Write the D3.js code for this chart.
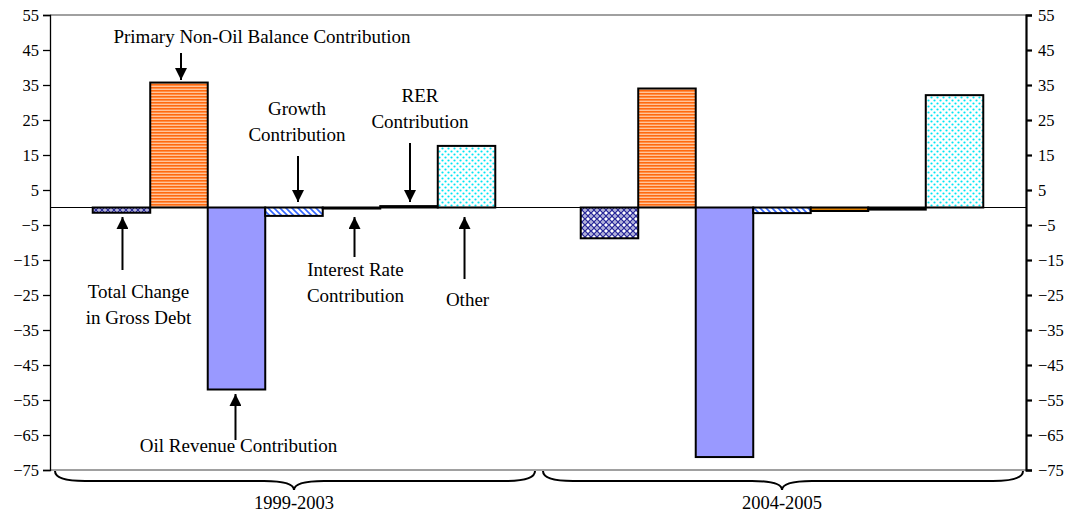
<!DOCTYPE html>
<html>
<head>
<meta charset="utf-8">
<script src="https://cdn.jsdelivr.net/npm/d3@7"></script>
<style>
  body { margin: 0; background: #fff; }
  text { font-family: "Liberation Serif", "Times New Roman", serif; fill: #000; }
</style>
</head>
<body>
<div id="chart"></div>
<script>
// data
const periods = ['1999-2003', '2004-2005'];
const seriesNames = ['Total Change in Gross Debt', 'Primary Non-Oil Balance Contribution',
  'Oil Revenue Contribution', 'Growth Contribution', 'Interest Rate Contribution',
  'RER Contribution', 'Other'];
const totalChange = [-1.5, -8.8];
const primaryNonOil = [35.7, 34.0];
const oilRevenue = [-52.0, -71.3];
const growth = [-2.4, -1.6];
const interestRate = [-0.3, -1.0];
const rer = [0.4, -0.6];
const other = [17.6, 32.1];
const yTicks = [55, 45, 35, 25, 15, 5, -5, -15, -25, -35, -45, -55, -65, -75];

const seriesValues = [totalChange, primaryNonOil, oilRevenue, growth, interestRate, rer, other];
const fills = ['url(#pTotal)', 'url(#pPrimary)', '#9999FF', 'url(#pGrowth)', '#E08000', '#000000', 'url(#pOther)'];

const W = 1068, H = 514;
const plotLeft = 50, plotRight = 1026, plotTop = 15, plotBottom = 470;

const svg = d3.select('#chart').append('svg')
    .attr('width', W)
    .attr('height', H);

// patterns
const defs = svg.append('defs');
let p = defs.append('pattern').attr('id', 'pTotal').attr('width', 6).attr('height', 6).attr('patternUnits', 'userSpaceOnUse');
p.append('rect').attr('width', 6).attr('height', 6).attr('fill', '#fff');
p.append('path').attr('d', 'M0,0L6,6M6,0L0,6').attr('stroke', '#2b2b9a').attr('stroke-width', 1.4);
p.append('circle').attr('cx', 3).attr('cy', 0).attr('r', 0.7).attr('fill', '#2b2b9a');
p.append('circle').attr('cx', 3).attr('cy', 6).attr('r', 0.7).attr('fill', '#2b2b9a');

p = defs.append('pattern').attr('id', 'pPrimary').attr('width', 3).attr('height', 3).attr('patternUnits', 'userSpaceOnUse');
p.append('rect').attr('width', 3).attr('height', 3).attr('fill', '#FFC49A');
p.append('rect').attr('width', 3).attr('height', 1.6).attr('fill', '#FF6A10');

p = defs.append('pattern').attr('id', 'pGrowth').attr('width', 6).attr('height', 6).attr('patternUnits', 'userSpaceOnUse');
p.append('rect').attr('width', 6).attr('height', 6).attr('fill', '#fff');
p.append('path').attr('d', 'M0,0L6,6M-3,3L3,9M3,-3L9,3').attr('stroke', '#3366FF').attr('stroke-width', 1.6);

p = defs.append('pattern').attr('id', 'pOther').attr('width', 6).attr('height', 6).attr('patternUnits', 'userSpaceOnUse');
p.append('rect').attr('width', 6).attr('height', 6).attr('fill', '#fff');
p.append('circle').attr('cx', 1.5).attr('cy', 1.5).attr('r', 1.1).attr('fill', '#00E5F5');
p.append('circle').attr('cx', 4.5).attr('cy', 4.5).attr('r', 1.1).attr('fill', '#00E5F5');

defs.append('marker').attr('id', 'head')
    .attr('viewBox', '0 0 12 12').attr('refX', 12).attr('refY', 6)
    .attr('markerWidth', 12).attr('markerHeight', 12)
    .attr('markerUnits', 'userSpaceOnUse').attr('orient', 'auto')
  .append('path').attr('d', 'M0,0L12,6L0,12Z').attr('fill', '#000');

// scales
const x0 = d3.scaleBand().domain(periods).range([plotLeft, plotRight]);
const x1 = d3.scaleBand().domain(seriesNames).range([0, x0.bandwidth()]).paddingInner(0).paddingOuter(0.743);
const y = d3.scaleLinear().domain([-75, 55]).range([plotBottom, plotTop]);

// plot frame (top / bottom edges)
svg.append('line').attr('x1', plotLeft).attr('x2', plotRight).attr('y1', plotTop).attr('y2', plotTop)
    .attr('stroke', '#808080').attr('stroke-width', 1.5);
svg.append('line').attr('x1', plotLeft).attr('x2', plotRight).attr('y1', plotBottom).attr('y2', plotBottom)
    .attr('stroke', '#808080').attr('stroke-width', 1.5);

// zero line
svg.append('line').attr('x1', plotLeft).attr('x2', plotRight).attr('y1', y(0)).attr('y2', y(0))
    .attr('stroke', '#000').attr('stroke-width', 1);

// axes
const yLeft = svg.append('g').attr('transform', `translate(${plotLeft},0)`)
    .call(d3.axisLeft(y).tickValues(yTicks).tickSize(7).tickPadding(4));
const yRight = svg.append('g').attr('transform', `translate(${plotRight},0)`)
    .call(d3.axisRight(y).tickValues(yTicks).tickSize(6).tickPadding(6));
[yLeft, yRight].forEach(g => {
  g.select('.domain').attr('stroke', '#000');
  g.selectAll('text').attr('font-size', 16.5).attr('fill', '#000');
});
yLeft.selectAll('.domain, .tick line').attr('stroke-width', 1.3);
yRight.selectAll('.domain, .tick line').attr('stroke-width', 2.2);

// bars
const barData = [];
seriesNames.forEach((s, si) => {
  periods.forEach((per, pi) => {
    barData.push({ series: s, period: per, value: seriesValues[si][pi], fill: fills[si] });
  });
});

svg.append('g').selectAll('rect').data(barData).join('rect')
    .attr('x', d => x0(d.period) + x1(d.series))
    .attr('width', x1.bandwidth())
    .attr('y', d => y(Math.max(0, d.value)))
    .attr('height', d => Math.abs(y(d.value) - y(0)))
    .attr('fill', d => d.fill)
    .attr('stroke', '#000')
    .attr('stroke-width', 2);

// annotations for the first period
const barMid = i => x0(periods[0]) + x1(seriesNames[i]) + x1.bandwidth() / 2;
const notes = [
  { i: 0, dx: 1, y1: 270, y2: 217, lines: ['Total Change', 'in Gross Debt'], tx: 16, ty: 298 },
  { i: 1, dx: 2, y1: 53, y2: 80, lines: ['Primary Non-Oil Balance Contribution'], tx: 81, ty: 43 },
  { i: 2, dx: -1, y1: 440, y2: 394, lines: ['Oil Revenue Contribution'], tx: 3, ty: 452 },
  { i: 3, dx: 4, y1: 156, y2: 202, lines: ['Growth', 'Contribution'], tx: -1, ty: 115 },
  { i: 4, dx: 3, y1: 257, y2: 217, lines: ['Interest Rate', 'Contribution'], tx: 1, ty: 276 },
  { i: 5, dx: 1, y1: 143, y2: 202, lines: ['RER', 'Contribution'], tx: 10, ty: 102 },
  { i: 6, dx: -2, y1: 279, y2: 217, lines: ['Other'], tx: 3, ty: 306 }
];

const ann = svg.append('g');
notes.forEach(n => {
  const ax = barMid(n.i) + n.dx;
  ann.append('line').attr('x1', ax).attr('x2', ax).attr('y1', n.y1).attr('y2', n.y2)
      .attr('stroke', '#000').attr('stroke-width', 2).attr('marker-end', 'url(#head)');
  const t = ann.append('text').attr('text-anchor', 'middle').attr('font-size', 19)
      .attr('x', ax + n.tx).attr('y', n.ty);
  n.lines.forEach((l, k) => {
    t.append('tspan').attr('x', ax + n.tx).attr('dy', k === 0 ? 0 : 25.5).text(l);
  });
});

// braces and period labels
const braceTop = plotBottom + 1, braceMid = plotBottom + 11, braceTip = plotBottom + 20;
periods.forEach(per => {
  const a = x0(per) + 5, b = x0(per) + x0.bandwidth() - 3, c = x0(per) + x0.bandwidth() / 2;
  const d = `M${a},${braceTop} Q${a},${braceMid} ${a + 30},${braceMid} L${c - 30},${braceMid} ` +
            `Q${c},${braceMid} ${c},${braceTip} Q${c},${braceMid} ${c + 30},${braceMid} ` +
            `L${b - 30},${braceMid} Q${b},${braceMid} ${b},${braceTop}`;
  svg.append('path').attr('d', d).attr('fill', 'none').attr('stroke', '#000').attr('stroke-width', 2);
  svg.append('text').attr('x', c).attr('y', 509).attr('text-anchor', 'middle')
      .attr('font-size', 18.5).text(per);
});
</script>
</body>
</html>
